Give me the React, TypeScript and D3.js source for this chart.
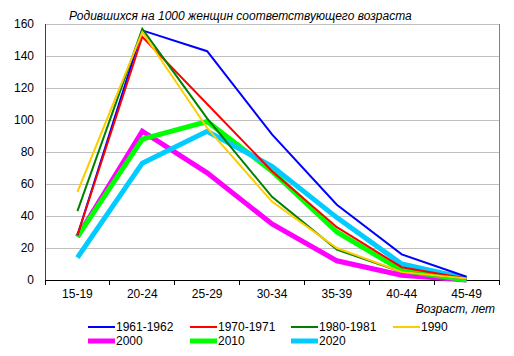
import React from "react";
import * as d3 from "d3";

const categories = ["15-19", "20-24", "25-29", "30-34", "35-39", "40-44", "45-49"];
const yTicks = [0, 20, 40, 60, 80, 100, 120, 140, 160];

const seriesNames = ["1961-1962", "1970-1971", "1980-1981", "1990", "2000", "2010", "2020"];
const seriesColors = ["#0000FF", "#FF0000", "#008000", "#FFCC00", "#FF00FF", "#00FF00", "#00CCFF"];
const seriesWidths = [2, 2, 2, 2, 5, 5, 5];

const v1961 = [28, 156, 143, 91, 47, 16, 2];
const v1970 = [28, 152, 110, 68, 33, 8, 1];
const v1980 = [43, 157, 101, 52, 19, 5, 1];
const v1990 = [55, 155, 95, 49, 20, 5, 1];
const v2000 = [27, 93, 67, 35, 12, 3, 0];
const v2010 = [27, 88, 99, 68, 30, 6, 0];
const v2020 = [14, 73, 93, 71, 39, 10, 1];
const seriesValues = [v1961, v1970, v1980, v1990, v2000, v2010, v2020];

const FONT = "'Liberation Sans', Arial, sans-serif";

export default function App() {
  const W = 514, H = 356;
  const left = 45, right = 499, top = 24, bottom = 280;
  const x = d3.scaleBand<string>().domain(categories).range([left, right]).padding(0);
  const y = d3.scaleLinear().domain([0, 160]).range([bottom, top]);
  const line = d3
    .line<number>()
    .x((_, i) => (x(categories[i]) as number) + x.bandwidth() / 2)
    .y((d) => y(d));

  const drawOrder = [4, 5, 6, 0, 1, 2, 3];
  const legendCols = [88, 190, 291, 393];
  const legendRows = [327, 341];

  return (
    <svg width={W} height={H} style={{ position: "absolute", left: 0, top: 0, background: "#fff" }}>
      <rect x={0} y={0} width={W} height={H} fill="#fff" />
      {/* gridlines */}
      {yTicks.filter((t) => t > 0).map((t) => (
        <line key={t} x1={left} x2={right} y1={y(t)} y2={y(t)} stroke="#C0C0C0" strokeWidth={1} shapeRendering="crispEdges" />
      ))}
      {/* border */}
      <line x1={right} x2={right} y1={top} y2={bottom} stroke="#808080" shapeRendering="crispEdges" />
      <line x1={left} x2={left} y1={top} y2={bottom} stroke="#404040" shapeRendering="crispEdges" />
      <line x1={left} x2={right} y1={bottom} y2={bottom} stroke="#000" shapeRendering="crispEdges" />
      {/* x ticks */}
      {d3.range(categories.length + 1).map((i) => {
        const xx = left + i * x.bandwidth();
        return <line key={i} x1={xx} x2={xx} y1={bottom} y2={bottom + 5} stroke="#000" shapeRendering="crispEdges" />;
      })}
      {/* y labels */}
      {yTicks.map((t) => (
        <text key={t} x={34} y={y(t) + 4} textAnchor="end" fontFamily={FONT} fontSize={12} fill="#000">
          {t}
        </text>
      ))}
      {/* x labels */}
      {categories.map((c) => (
        <text key={c} x={(x(c) as number) + x.bandwidth() / 2} y={298} textAnchor="middle" fontFamily={FONT} fontSize={12} fill="#000">
          {c}
        </text>
      ))}
      {/* series */}
      {drawOrder.map((si) => (
        <path
          key={si}
          d={line(seriesValues[si]) as string}
          fill="none"
          stroke={seriesColors[si]}
          strokeWidth={seriesWidths[si]}
          strokeLinejoin="miter"
        />
      ))}
      {/* title */}
      <text x={69} y={20} fontFamily={FONT} fontSize={12} fontStyle="italic" fill="#000">
        Родившихся на 1000 женщин соответствующего возраста
      </text>
      <text x={495} y={313} textAnchor="end" fontFamily={FONT} fontSize={12} fontStyle="italic" fill="#000">
        Возраст, лет
      </text>
      {/* legend */}
      {seriesNames.map((n, i) => {
        const lx = legendCols[i % 4];
        const ly = legendRows[Math.floor(i / 4)];
        return (
          <g key={n}>
            <line x1={lx} x2={lx + 27} y1={ly} y2={ly} stroke={seriesColors[i]} strokeWidth={seriesWidths[i]} />
            <text x={lx + 28} y={ly + 4} fontFamily={FONT} fontSize={12} fill="#000">
              {n}
            </text>
          </g>
        );
      })}
    </svg>
  );
}
